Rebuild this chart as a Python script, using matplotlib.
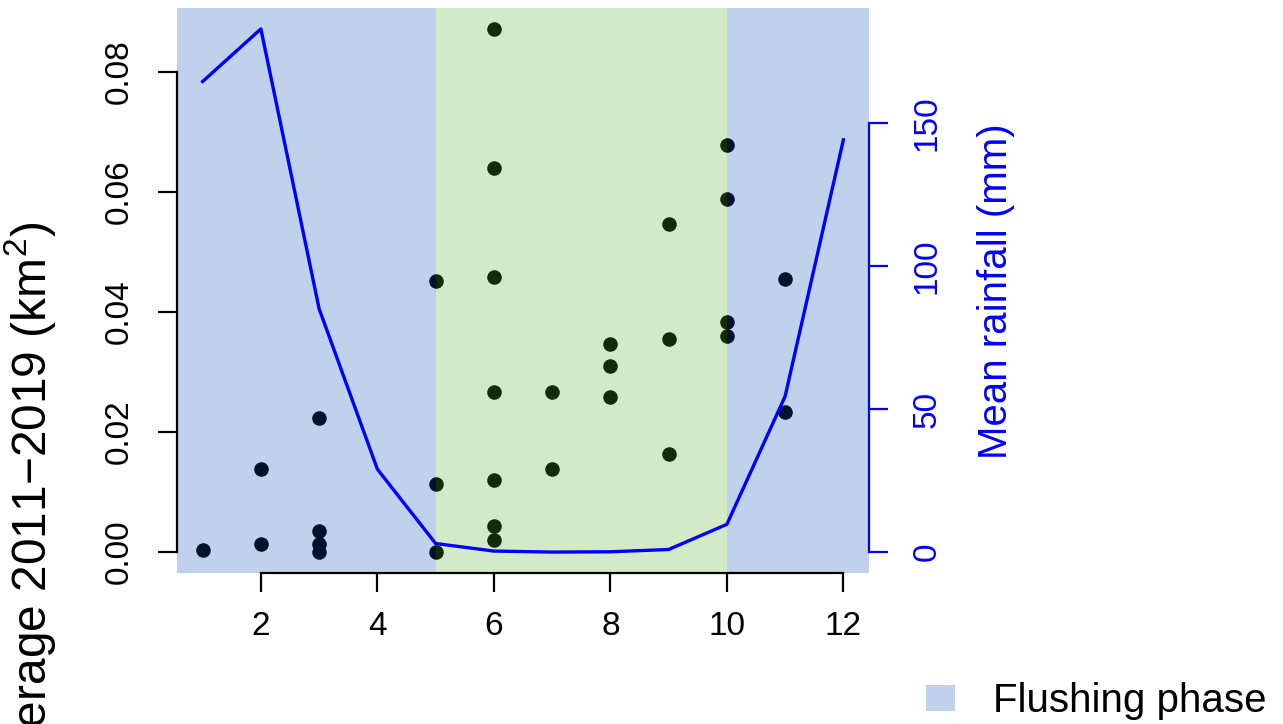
import matplotlib
matplotlib.use("Agg")
import matplotlib.pyplot as plt
from matplotlib.patches import Patch

plt.rcParams['font.family'] = ['Liberation Sans', 'DejaVu Sans']
plt.rcParams['mathtext.fontset'] = 'custom'
plt.rcParams['mathtext.rm'] = 'Liberation Sans'

# coverage points (month, km2)
pt_month = [1, 2, 2, 3, 3, 3, 3, 5, 5, 5,
            6, 6, 6, 6, 6, 6, 6, 7, 7, 8, 8, 8,
            9, 9, 9, 10, 10, 10, 10, 11, 11]
pt_cover = [0.0003, 0.0138, 0.0013, 0.0223, 0.0035, 0.0013, 0.0, 0.0451, 0.0113, 0.0,
            0.0871, 0.0639, 0.0458, 0.0266, 0.0120, 0.0043, 0.0020, 0.0266, 0.0138,
            0.0347, 0.0310, 0.0258,
            0.0546, 0.0354, 0.0164, 0.0678, 0.0588, 0.0383, 0.0359, 0.0454, 0.0234]

# mean monthly rainfall (mm)
months = [1, 2, 3, 4, 5, 6, 7, 8, 9, 10, 11, 12]
rain = [164.6, 183.0, 85.1, 29.0, 3.0, 0.35, 0.0, 0.1, 0.9, 9.7, 54.5, 144.2]

flush_col = (0.0, 0.29, 0.69)
dry_col = (0.31, 0.70, 0.12)

W, H = 1283, 724
fig = plt.figure(figsize=(W / 100, H / 100), dpi=100)
ax = fig.add_axes([177 / W, 1 - 573 / H, (869 - 177) / W, (573 - 8) / H])

def rlim(v):
    lo, hi = min(v), max(v)
    d = (hi - lo) * 0.04
    return lo - d, hi + d

ax.set_xlim(*rlim(months))
ax.set_ylim(*rlim(pt_cover))

ax.scatter(pt_month, pt_cover, s=110, color='black', zorder=1, linewidths=0)

x0, x1 = ax.get_xlim()
ax.axvspan(x0, 5, color=flush_col, alpha=0.25, lw=0, zorder=2)
ax.axvspan(5, 10, color=dry_col, alpha=0.25, lw=0, zorder=2)
ax.axvspan(10, x1, color=flush_col, alpha=0.25, lw=0, zorder=2)

ax.set_xticks([2, 4, 6, 8, 10, 12])
ax.set_yticks([0.00, 0.02, 0.04, 0.06, 0.08])
ax.set_yticklabels(['0.00', '0.02', '0.04', '0.06', '0.08'], rotation=90, va='center')
for s in ['top', 'right']:
    ax.spines[s].set_visible(False)
ax.spines['bottom'].set_bounds(2, 12)
ax.spines['left'].set_bounds(0, 0.08)
for s in ['bottom', 'left']:
    ax.spines[s].set_linewidth(1.6)
ax.tick_params(length=13.5, width=1.6, labelsize=24, pad=17)
ax.tick_params(axis='x', pad=14)
ax.set_facecolor('none')

ax2 = ax.twinx()
ax2.set_position(ax.get_position())
ax2.plot(months, rain, color='blue', lw=2.4, zorder=3)
ax2.set_ylim(*rlim(rain))
ax2.set_xlim(x0, x1)
for s in ['top', 'left', 'bottom']:
    ax2.spines[s].set_visible(False)
ax2.spines['right'].set_bounds(0, 150)
ax2.spines['right'].set_color('blue')
ax2.spines['right'].set_linewidth(1.6)
ax2.set_yticks([0, 50, 100, 150])
ax2.set_yticklabels(['0', '50', '100', '150'], rotation=90, va='center')
ax2.tick_params(axis='y', colors='blue', length=13.5, width=1.6, labelsize=24, pad=17)

fig.text(996 / W, 1 - 291 / H, 'Mean rainfall (mm)', rotation=90, ha='center', va='center',
         color='blue', fontsize=29)
fig.text(30 / W, 1 - 222 / H, 'Average 2011\u22122019 (km$^{2}$)', rotation=90,
         ha='center', va='top', fontsize=34.5)

fig.legend(handles=[Patch(facecolor=flush_col, alpha=0.25, lw=0, label='Flushing phase')],
           loc='center left', bbox_to_anchor=(926 / W, 1 - 701 / H), frameon=False,
           fontsize=29, handlelength=0.72, handleheight=0.62, handletextpad=0.95,
           borderpad=0, borderaxespad=0)

fig.savefig('out.png', dpi=100)
